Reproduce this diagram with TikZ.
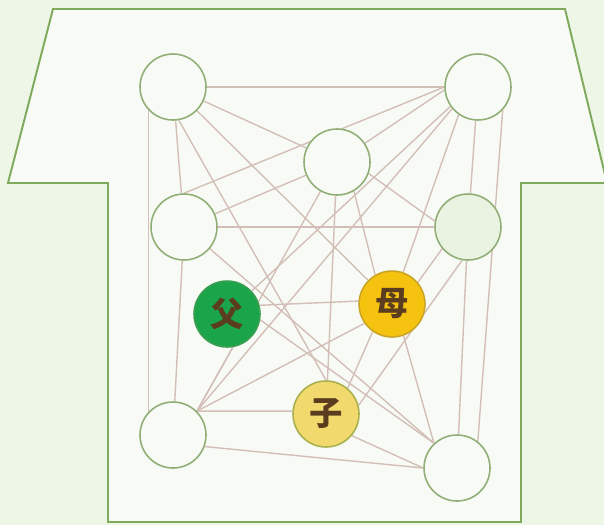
\documentclass[tikz,border=0pt]{standalone}
\usepackage{fontspec}
\newfontfamily\cjk{Noto Sans CJK SC}
\definecolor{bgcol}{HTML}{EEF6E7}
\definecolor{housein}{HTML}{F8FBF5}
\definecolor{houseline}{HTML}{7FAA5C}
\definecolor{ringcol}{HTML}{90AE76}
\definecolor{edgecol}{HTML}{D3BFB7}
\definecolor{mrfill}{HTML}{EAF3E1}
\definecolor{fucol}{HTML}{1AA54A}
\definecolor{fuline}{HTML}{3C9E52}
\definecolor{mucol}{HTML}{F6C210}
\definecolor{muline}{HTML}{C9A626}
\definecolor{zicol}{HTML}{F2D96E}
\definecolor{ziline}{HTML}{A9B04E}
\definecolor{charcol}{HTML}{5A3C1E}
\pgfdeclarelayer{bg}
\pgfsetlayers{bg,main}

\begin{document}
\begin{tikzpicture}[x=0.02cm,y=-0.02cm,
    person/.style={circle,draw=ringcol,line width=0.9pt,fill=housein,minimum size=1.32cm,
      inner sep=0pt,font=\cjk\bfseries\fontsize{19}{19}\selectfont,text=charcol},
    link/.style={draw=edgecol,line width=0.8pt}]
  \useasboundingbox (0,0) rectangle (604,525);

  \node[person] (tl) at (173,87) {};
  \node[person] (tr) at (478,87) {};
  \node[person] (c) at (337,162) {};
  \node[person] (ml) at (184,227) {};
  \node[person,fill=mrfill] (mr) at (468,227) {};
  \node[person,fill=fucol,draw=fuline] (fu) at (227,314) {父};
  \node[person,fill=mucol,draw=muline] (mu) at (392,304) {母};
  \node[person,fill=zicol,draw=ziline] (zi) at (326,414) {子};
  \node[person] (bl) at (173,435) {};
  \node[person] (br) at (457,468) {};

  \begin{pgfonlayer}{bg}
    \fill[bgcol] (0,0) rectangle (604,525);
    \draw[houseline,line width=1.1pt,fill=housein]
      (53,9) -- (565,9) -- (607,183) -- (521,183) -- (521,522)
      -- (108,522) -- (108,183) -- (8,183) -- cycle;

    \draw[link] (tl) -- (tr);
    \draw[link] (tl) -- (c);
    \draw[link] (tl) -- (ml);
    \draw[link] (tl.223) -- (bl.137);
    \draw[link] (tl) -- (mu);
    \draw[link] (tl.-80) -- (zi.north);
    \draw[link] (tr.180) -- (ml.north);
    \draw[link] (tr.185) -- (c);
    \draw[link] (tr.215) -- (fu);
    \draw[link] (tr.220) -- (bl.45);
    \draw[link] (tr.235) -- (mu);
    \draw[link] (tr) -- (mr);
    \draw[link] (tr.-43) -- (br.52);
    \draw[link] (c) -- (ml);
    \draw[link] (c) -- (bl.45);
    \draw[link] (c) -- (zi);
    \draw[link] (c.-60) -- (mu.120);
    \draw[link] (c.-20) -- (mr.170);
    \draw[link] (ml) -- (mr);
    \draw[link] (ml) -- (bl);
    \draw[link] (ml.-40) -- (br.133);
    \draw[link] (fu.15) -- (mu.175);
    \draw[link] (fu.-80) -- (bl.45);
    \draw[link] (fu.-10) -- (br.133);
    \draw[link] (mu.215) -- (bl.45);
    \draw[link] (mu.235) -- (zi.50);
    \draw[link] (mu.-70) -- (br.133);
    \draw[link] (mu.40) -- (mr.220);
    \draw[link] (bl.45) -- (zi.175);
    \draw[link] (zi.-40) -- (br.180);
    \draw[link] (zi.15) -- (mr.-100);
    \draw[link] (bl.-20) -- (br.180);
    \draw[link] (mr) -- (br);
  \end{pgfonlayer}
\end{tikzpicture}
\end{document}
